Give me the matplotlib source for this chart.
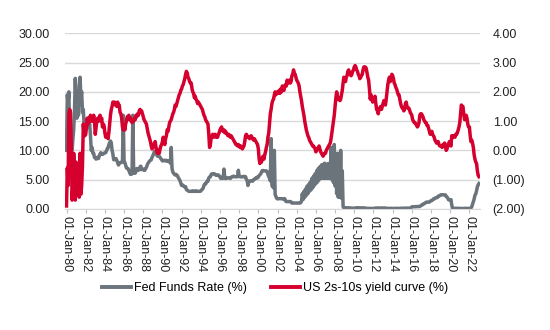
import numpy as np
import pandas as pd
import matplotlib
matplotlib.use("Agg")
import matplotlib.pyplot as plt
import matplotlib.dates as mdates
from matplotlib.ticker import FuncFormatter

plt.rcParams['font.family'] = ['Liberation Sans', 'DejaVu Sans']
plt.rcParams['font.size'] = 9

# monthly readings, Jan 1980 .. Jan 2023 (one row per year)
fed_funds = [
    10.0, 19.5, 18.0, 20.0, 10.0, 9.8, 10.5, 10.0, 12.0, 13.5, 17.0, 22.3,    # 1980
    18.0, 15.5, 20.0, 16.0, 21.0, 22.5, 19.0, 20.0, 16.5, 17.0, 14.5, 13.0,  # 1981
    13.5, 15.0, 14.5, 15.5, 14.0, 14.5, 12.5, 10.0, 10.5, 9.5, 9.5, 8.8,     # 1982
    8.7, 8.5, 8.8, 8.8, 8.6, 9.0, 9.4, 9.6, 9.4, 9.3, 9.4, 9.5,              # 1983
    9.6, 9.6, 9.9, 10.3, 10.4, 11.0, 11.3, 11.6, 11.3, 10.0, 9.4, 8.4,       # 1984
    8.4, 8.5, 8.6, 8.3, 7.9, 7.5, 7.9, 7.9, 7.9, 8.0, 8.0, 16.0,             # 1985
    8.1, 7.9, 7.5, 7.0, 6.9, 6.9, 6.6, 6.2, 5.9, 5.9, 6.0, 16.0,             # 1986
    6.4, 6.1, 6.1, 6.4, 6.9, 6.7, 6.6, 6.7, 7.2, 7.3, 6.7, 6.8,              # 1987
    6.8, 6.6, 6.6, 6.9, 7.1, 7.5, 7.8, 8.0, 8.2, 8.3, 8.4, 8.8,              # 1988
    9.1, 9.4, 9.8, 9.8, 9.6, 9.2, 9.0, 9.0, 9.0, 8.8, 8.6, 8.4,              # 1989
    8.2, 8.2, 8.3, 8.3, 8.2, 8.3, 8.2, 8.1, 8.2, 8.1, 7.8, 10.5,             # 1990
    6.9, 6.3, 6.1, 5.9, 5.8, 5.9, 5.8, 5.6, 5.3, 5.1, 4.8, 4.4,              # 1991
    4.0, 4.1, 4.0, 3.8, 3.8, 3.8, 3.3, 3.2, 3.1, 3.0, 3.0, 3.0,              # 1992
    3.0, 3.0, 3.1, 3.0, 3.0, 3.0, 3.1, 3.0, 3.0, 3.0, 3.0, 3.0,              # 1993
    3.05, 3.25, 3.35, 3.55, 4.0, 4.25, 4.25, 4.5, 4.75, 4.75, 5.3, 5.45,     # 1994
    5.5, 5.9, 6.0, 6.0, 6.0, 6.0, 5.85, 5.75, 5.8, 5.75, 5.8, 5.6,           # 1995
    5.55, 5.2, 5.3, 5.2, 5.25, 6.8, 5.4, 5.2, 5.3, 5.25, 5.3, 5.3,           # 1996
    5.25, 5.2, 5.4, 5.5, 5.5, 5.6, 5.5, 5.5, 5.5, 5.5, 5.5, 6.6,             # 1997
    5.55, 5.5, 5.5, 5.45, 5.5, 5.55, 5.5, 5.55, 5.5, 5.05, 4.85, 4.0,        # 1998
    4.6, 4.75, 4.8, 4.75, 4.75, 4.75, 5.0, 5.05, 5.2, 5.2, 5.4, 5.3,         # 1999
    5.45, 5.7, 5.85, 6.0, 6.3, 6.55, 6.55, 6.5, 6.5, 6.5, 6.5, 6.4,          # 2000
    5.9, 5.5, 5.3, 4.8, 12.0, 4.0, 3.8, 3.6, 10.0, 2.5, 2.1, 1.8,            # 2001
    1.7, 1.75, 1.75, 1.75, 1.75, 1.75, 1.7, 1.7, 1.75, 1.75, 1.35, 1.25,     # 2002
    1.25, 1.25, 1.25, 1.25, 1.25, 1.2, 1.0, 1.0, 1.0, 1.0, 1.0, 1.0,         # 2003
    1.0, 1.0, 1.0, 1.0, 1.0, 1.05, 1.3, 2.6, 1.6, 3.0, 1.95, 3.4,            # 2004
    2.3, 3.9, 2.6, 4.2, 3.0, 4.6, 3.25, 5.2, 3.6, 5.6, 4.0, 6.0,             # 2005
    4.3, 6.5, 4.6, 6.9, 4.95, 7.2, 5.25, 7.5, 5.25, 7.6, 5.25, 7.8,          # 2006
    5.25, 7.6, 5.25, 7.7, 5.25, 7.8, 5.25, 10.5, 5.0, 8.5, 4.5, 11.0,        # 2007
    3.9, 8.0, 2.6, 9.5, 2.0, 7.5, 2.0, 10.0, 1.8, 6.5, 0.4, 0.16,            # 2008
    0.15, 0.2, 0.18, 0.15, 0.18, 0.2, 0.15, 0.15, 0.15, 0.12, 0.12, 0.12,    # 2009
    0.11, 0.13, 0.16, 0.2, 0.2, 0.18, 0.18, 0.19, 0.19, 0.19, 0.19, 0.18,    # 2010
    0.17, 0.16, 0.14, 0.1, 0.09, 0.09, 0.07, 0.1, 0.08, 0.07, 0.08, 0.07,    # 2011
    0.08, 0.1, 0.13, 0.14, 0.16, 0.16, 0.16, 0.13, 0.14, 0.16, 0.16, 0.16,   # 2012
    0.14, 0.15, 0.14, 0.15, 0.11, 0.09, 0.09, 0.08, 0.08, 0.09, 0.08, 0.09,  # 2013
    0.07, 0.07, 0.08, 0.09, 0.09, 0.1, 0.09, 0.09, 0.09, 0.09, 0.09, 0.12,   # 2014
    0.11, 0.11, 0.11, 0.12, 0.12, 0.13, 0.13, 0.14, 0.14, 0.12, 0.12, 0.24,  # 2015
    0.34, 0.38, 0.36, 0.37, 0.37, 0.38, 0.39, 0.4, 0.4, 0.4, 0.41, 0.54,     # 2016
    0.65, 0.66, 0.79, 0.9, 0.91, 1.04, 1.15, 1.16, 1.15, 1.15, 1.16, 1.3,    # 2017
    1.41, 1.42, 1.51, 1.69, 1.7, 1.82, 1.91, 1.91, 1.95, 2.19, 2.2, 2.27,    # 2018
    2.4, 2.4, 2.41, 2.42, 2.39, 2.38, 2.4, 2.13, 2.04, 1.83, 1.55, 1.55,     # 2019
    1.55, 1.58, 0.65, 0.05, 0.05, 0.08, 0.09, 0.1, 0.09, 0.09, 0.09, 0.09,   # 2020
    0.09, 0.08, 0.07, 0.07, 0.06, 0.08, 0.1, 0.09, 0.08, 0.08, 0.08, 0.08,   # 2021
    0.08, 0.08, 0.2, 0.33, 0.77, 1.21, 1.68, 2.33, 2.56, 3.08, 3.78, 4.1,    # 2022
    4.33,                                                                    # 2023
]

yield_curve = [
    -1.9, -0.6, -1.2, 1.25, 1.4, 1.3, 0.2, -1.7, -1.2, -0.1, -0.8, -1.7,     # 1980
    -0.4, -1.0, -1.5, -1.2, -1.6, -0.1, -1.5, -1.2, -0.5, 0.9, 0.6, 0.5,     # 1981
    0.55, 0.8, 1.1, 0.9, 1.1, 1.0, 1.2, 1.0, 1.1, 1.0, 1.2, 1.0,             # 1982
    0.55, 0.8, 1.0, 1.1, 1.0, 1.1, 1.2, 1.0, 1.1, 0.8, 0.9, 0.85,            # 1983
    0.6, 0.45, 0.5, 0.55, 0.4, 0.6, 0.9, 1.2, 1.4, 1.5, 1.65, 1.6,           # 1984
    1.65, 1.55, 1.6, 1.5, 1.65, 1.5, 1.55, 1.3, 1.25, 1.1, 0.8, 0.7,         # 1985
    0.8, 0.7, 0.9, 1.0, 1.15, 1.1, 1.2, 1.05, 1.1, 1.0, 0.95, 1.0,           # 1986
    1.0, 1.1, 1.05, 1.2, 1.15, 1.25, 1.2, 1.35, 1.4, 1.3, 1.35, 1.25,        # 1987
    1.15, 1.05, 1.0, 0.95, 0.9, 0.75, 0.6, 0.5, 0.4, 0.3, 0.15, 0.05,        # 1988
    0.1, 0.15, 0.25, 0.3, 0.1, -0.05, -0.1, 0.0, -0.1, 0.05, 0.15, 0.2,      # 1989
    0.3, 0.45, 0.3, 0.2, 0.4, 0.5, 0.7, 0.65, 0.8, 0.95, 1.0, 1.05,          # 1990
    1.15, 1.25, 1.3, 1.4, 1.55, 1.5, 1.6, 1.7, 1.8, 1.9, 1.95, 2.05,         # 1991
    2.1, 2.2, 2.25, 2.35, 2.45, 2.6, 2.7, 2.65, 2.5, 2.45, 2.35, 2.3,        # 1992
    2.3, 2.1, 2.0, 1.95, 1.8, 1.85, 1.75, 1.7, 1.6, 1.65, 1.6, 1.55,         # 1993
    1.5, 1.45, 1.4, 1.3, 1.2, 1.15, 1.05, 1.0, 0.95, 0.9, 0.55, 0.1,         # 1994
    0.2, 0.45, 0.5, 0.55, 0.45, 0.5, 0.55, 0.45, 0.5, 0.45, 0.55, 0.6,       # 1995
    0.7, 0.75, 0.8, 0.7, 0.65, 0.7, 0.6, 0.65, 0.6, 0.55, 0.5, 0.55,         # 1996
    0.5, 0.45, 0.5, 0.45, 0.4, 0.35, 0.3, 0.25, 0.2, 0.2, 0.15, 0.2,         # 1997
    0.15, 0.1, 0.15, 0.1, 0.05, 0.1, 0.15, 0.3, 0.5, 0.55, 0.5, 0.45,        # 1998
    0.45, 0.4, 0.45, 0.5, 0.45, 0.4, 0.35, 0.4, 0.35, 0.3, 0.25, 0.2,        # 1999
    0.05, -0.3, -0.45, -0.35, -0.4, -0.25, -0.2, -0.3, -0.15, -0.05, 0.1, 0.2,  # 2000
    0.45, 0.6, 0.9, 1.25, 1.4, 1.6, 1.7, 1.75, 1.9, 2.0, 1.9, 1.95,          # 2001
    2.0, 1.95, 2.05, 1.95, 2.1, 2.0, 2.2, 2.15, 2.05, 2.2, 2.25, 2.2,        # 2002
    2.4, 2.3, 2.35, 2.4, 2.3, 2.35, 2.55, 2.6, 2.75, 2.65, 2.6, 2.5,         # 2003
    2.4, 2.35, 2.3, 2.2, 2.0, 1.85, 1.7, 1.5, 1.35, 1.2, 1.0, 0.85,          # 2004
    0.7, 0.6, 0.5, 0.45, 0.35, 0.3, 0.25, 0.2, 0.15, 0.15, 0.1, 0.05,        # 2005
    -0.05, 0.0, 0.05, 0.1, 0.15, 0.05, -0.05, -0.1, -0.15, -0.2, -0.15, -0.1,  # 2006
    -0.1, 0.0, 0.05, 0.1, 0.15, 0.2, 0.25, 0.4, 0.6, 0.8, 1.0, 1.2,          # 2007
    1.5, 1.8, 2.0, 1.85, 1.75, 1.8, 1.7, 1.75, 1.9, 2.05, 2.3, 2.5,          # 2008
    2.45, 2.35, 2.5, 2.55, 2.7, 2.75, 2.65, 2.6, 2.55, 2.6, 2.7, 2.75,       # 2009
    2.85, 2.9, 2.85, 2.75, 2.7, 2.6, 2.55, 2.45, 2.5, 2.55, 2.6, 2.75,       # 2010
    2.85, 2.8, 2.85, 2.8, 2.65, 2.5, 2.4, 2.1, 1.75, 1.9, 1.75, 1.65,        # 2011
    1.7, 1.7, 1.85, 1.6, 1.4, 1.35, 1.25, 1.4, 1.45, 1.5, 1.4, 1.5,          # 2012
    1.6, 1.7, 1.65, 1.55, 1.75, 2.0, 2.25, 2.4, 2.5, 2.35, 2.45, 2.6,        # 2013
    2.55, 2.45, 2.3, 2.25, 2.15, 2.1, 2.0, 1.9, 1.9, 1.75, 1.6, 1.5,         # 2014
    1.45, 1.45, 1.35, 1.4, 1.6, 1.65, 1.5, 1.45, 1.45, 1.4, 1.3, 1.25,       # 2015
    1.2, 1.05, 1.0, 0.95, 0.95, 0.9, 0.85, 0.8, 0.85, 0.95, 1.2, 1.25,       # 2016
    1.25, 1.2, 1.15, 1.05, 1.0, 0.95, 0.95, 0.85, 0.85, 0.75, 0.65, 0.55,    # 2017
    0.6, 0.65, 0.55, 0.5, 0.45, 0.35, 0.3, 0.25, 0.25, 0.3, 0.2, 0.15,       # 2018
    0.15, 0.15, 0.1, 0.2, 0.15, 0.25, 0.2, 0.0, 0.05, 0.15, 0.2, 0.3,        # 2019
    0.2, 0.15, 0.5, 0.45, 0.5, 0.5, 0.45, 0.55, 0.55, 0.6, 0.7, 0.8,         # 2020
    0.95, 1.25, 1.55, 1.5, 1.5, 1.25, 1.05, 1.05, 1.2, 1.1, 0.9, 0.8,        # 2021
    0.8, 0.5, 0.3, 0.35, 0.25, 0.1, -0.15, -0.3, -0.4, -0.45, -0.7, -0.85,   # 2022
    -0.9,                                                                    # 2023
]

dates = pd.date_range("1980-01-01", periods=len(fed_funds), freq="MS")

grey = "#6B737B"
red = "#D6002F"

fig, ax = plt.subplots(figsize=(5.5, 3.3), dpi=100)
fig.subplots_adjust(left=0.118, right=0.873, bottom=0.367, top=0.899)

ax.plot(dates, fed_funds, color=grey, lw=2.5, label="Fed Funds Rate (%)")
ax.set_ylim(0, 30)
ax.set_yticks(np.arange(0, 31, 5))
ax.yaxis.set_major_formatter(FuncFormatter(lambda v, p: f"{v:.2f}"))
ax.grid(axis="y", color="#D9D9D9", lw=1)
ax.set_axisbelow(True)

ax2 = ax.twinx()
ax2.plot(dates, yield_curve, color=red, lw=2.5, label="US 2s-10s yield curve (%)")
ax2.set_ylim(-2, 4)
ax2.set_yticks(np.arange(-2, 5, 1))
ax2.yaxis.set_major_formatter(
    FuncFormatter(lambda v, p: f"({abs(v):.2f})" if v < 0 else f"{v:.2f}"))

ax.set_xlim(pd.Timestamp("1979-11-01"), pd.Timestamp("2023-02-15"))
ax.xaxis.set_major_locator(mdates.YearLocator(2, month=1, day=1))
ax.xaxis.set_major_formatter(mdates.DateFormatter("%d-%b-%y"))
for lbl in ax.get_xticklabels():
    lbl.set_rotation(-90)

for a in (ax, ax2):
    for s in a.spines.values():
        s.set_visible(False)
ax.spines["bottom"].set_visible(True)
ax.spines["bottom"].set_color("#D9D9D9")

ax.tick_params(axis="x", length=3, color="#BFBFBF", pad=2, labelsize=9, labelcolor="#222222")
ax.tick_params(axis="y", length=0, pad=11, labelsize=9, labelcolor="#222222")
ax2.tick_params(axis="y", length=0, pad=9, labelsize=9, labelcolor="#222222")

h1, l1 = ax.get_legend_handles_labels()
h2, l2 = ax2.get_legend_handles_labels()
leg = fig.legend(h1 + h2, l1 + l2, loc="center", bbox_to_anchor=(0.5, 0.127),
                 ncol=2, frameon=False, handlelength=2.3, handletextpad=0.2,
                 columnspacing=2.0, fontsize=9)
for line in leg.get_lines():
    line.set_linewidth(2.8)

fig.savefig("out.png", dpi=100)
